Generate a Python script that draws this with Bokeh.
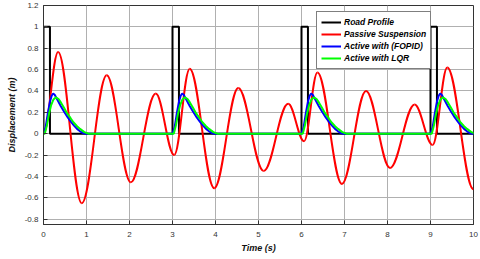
from bokeh.plotting import figure
from bokeh.models import Legend, LegendItem, FixedTicker, ColumnDataSource, Range1d
from bokeh.embed import file_html
from bokeh.resources import INLINE

# ---- data ----
pulse_starts = [0.0, 3.0, 6.0, 9.0]
pulse_width = 0.15
pulse_height = 1.0

# passive suspension: extrema (time, value)
passive_t = [0.0, 0.34, 0.89, 1.47, 2.03, 2.61, 3.04, 3.40, 3.97, 4.53, 5.12,
             5.69, 6.06, 6.37, 6.94, 7.50, 8.06, 8.63, 9.05, 9.39, 10.0]
passive_v = [0.0, 0.765, -0.65, 0.546, -0.455, 0.376, -0.20, 0.608, -0.51, 0.428,
             -0.35, 0.28, -0.07, 0.574, -0.47, 0.40, -0.32, 0.273, -0.105, 0.62, -0.52]

# active responses after each bump (time since bump, value)
fopid_t = [0, 0.05, 0.10, 0.15, 0.19, 0.225, 0.26, 0.32, 0.40, 0.48, 0.56, 0.64,
           0.71, 0.78, 0.85, 0.92, 0.97]
fopid_v = [0, 0.06, 0.19, 0.30, 0.355, 0.376, 0.365, 0.32, 0.26, 0.205, 0.155, 0.11,
           0.075, 0.045, 0.022, 0.006, 0]
lqr_t = [0, 0.03, 0.08, 0.13, 0.18, 0.23, 0.29, 0.35, 0.40, 0.48, 0.55, 0.63, 0.70,
         0.78, 0.85, 0.95, 1.05]
lqr_v = [0, 0.0, 0.08, 0.19, 0.27, 0.32, 0.34, 0.325, 0.295, 0.24, 0.19, 0.145, 0.105,
         0.07, 0.045, 0.015, 0]

x_ticks = [0, 1, 2, 3, 4, 5, 6, 7, 8, 9, 10]
y_ticks = [-0.8, -0.6, -0.4, -0.2, 0, 0.2, 0.4, 0.6, 0.8, 1.0, 1.2]
y_tick_labels = ["-0.8", "-0.6", "-0.4", "-0.2", "0", "0.2", "0.4", "0.6", "0.8", "1", "1.2"]
t_end = 10.0

# ---- build series ----
road_x, road_y = [0.0], [0.0]
for s in pulse_starts:
    road_x += [s, s, s + pulse_width, s + pulse_width]
    road_y += [0.0, pulse_height, pulse_height, 0.0]
road_x.append(t_end); road_y.append(0.0)

def bump_series(rel_t, rel_v):
    xs, ys = [0.0], [0.0]
    for s in pulse_starts:
        xs += [s + t for t in rel_t]
        ys += list(rel_v)
    xs.append(t_end); ys.append(0.0)
    return xs, ys

fx, fy = bump_series(fopid_t, fopid_v)
lx, ly = bump_series(lqr_t, lqr_v)

# smooth passive curve: bezier segments between extrema, horizontal tangents
k = 0.3642
seg = dict(x0=passive_t[:-1], y0=passive_v[:-1], x1=passive_t[1:], y1=passive_v[1:])
seg["cx0"] = [a + k * (b - a) for a, b in zip(seg["x0"], seg["x1"])]
seg["cy0"] = list(seg["y0"])
seg["cx1"] = [b - k * (b - a) for a, b in zip(seg["x0"], seg["x1"])]
seg["cy1"] = list(seg["y1"])

FONT = "Liberation Sans"
p = figure(width=480, height=259, output_backend="svg", toolbar_location=None,
           x_range=Range1d(0, 10), y_range=Range1d(-0.85, 1.2),
           min_border_left=43, min_border_right=7, min_border_top=5, min_border_bottom=35)

r_road = p.line(road_x, road_y, line_color="black", line_width=2)
r_pass = p.bezier(source=ColumnDataSource(seg), x0="x0", y0="y0", x1="x1", y1="y1",
                  cx0="cx0", cy0="cy0", cx1="cx1", cy1="cy1",
                  line_color="#ff0000", line_width=2)
r_fop = p.line(fx, fy, line_color="#0000ff", line_width=2)
r_lqr = p.line(lx, ly, line_color="#00ff00", line_width=2)

p.xaxis.ticker = FixedTicker(ticks=x_ticks)
p.yaxis.ticker = FixedTicker(ticks=y_ticks)
p.yaxis.major_label_overrides = {t: l for t, l in zip(y_ticks, y_tick_labels)}
for ax in (p.xaxis[0], p.yaxis[0]):
    ax.major_tick_in = 4
    ax.major_tick_out = 0
    ax.minor_tick_line_color = None
    ax.axis_line_color = "#333333"
    ax.major_tick_line_color = "#333333"
    ax.major_label_text_font = FONT
    ax.major_label_text_font_size = "8px"
    ax.major_label_text_color = "#333333"
    ax.axis_label_text_font = FONT
    ax.axis_label_text_font_size = "9px"
    ax.axis_label_text_font_style = "bold italic"
    ax.axis_label_text_color = "#111111"
p.xaxis.axis_label = "Time (s)"
p.yaxis.axis_label = "Displacement (m)"
p.xaxis.major_label_standoff = 7
p.xaxis.axis_label_standoff = 3
p.yaxis.major_label_standoff = 5
p.yaxis.axis_label_standoff = 5

p.grid.grid_line_color = "#b0b0b0"
p.grid.grid_line_width = 1
p.outline_line_color = "#333333"
p.background_fill_color = "white"
p.border_fill_color = "white"

legend = Legend(items=[
    LegendItem(label="Road Profile", renderers=[r_road]),
    LegendItem(label="Passive Suspension", renderers=[r_pass]),
    LegendItem(label="Active with (FOPID)", renderers=[r_fop]),
    LegendItem(label="Active with LQR", renderers=[r_lqr]),
], location=(273, 155))
legend.label_text_font = FONT
legend.label_text_font_size = "8.5px"
legend.label_text_font_style = "bold italic"
legend.label_text_color = "black"
legend.border_line_color = "black"
legend.border_line_width = 1
legend.background_fill_alpha = 1
legend.padding = 4
legend.spacing = 0
legend.margin = 0
legend.glyph_width = 20
legend.glyph_height = 12
legend.label_height = 12
legend.label_standoff = 3
p.add_layout(legend)

open("out.html", "w").write(file_html(p, INLINE))
